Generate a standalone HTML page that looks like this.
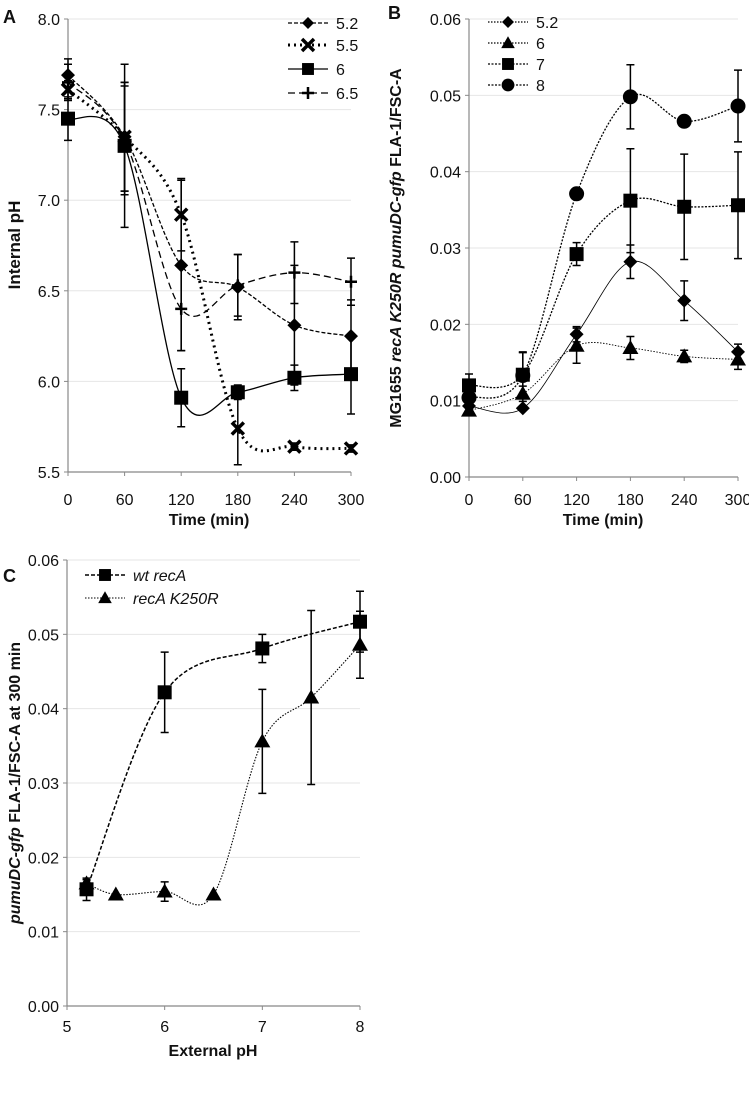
<!DOCTYPE html>
<html><head><meta charset="utf-8"><style>
html,body{margin:0;padding:0;background:#fff}
svg{display:block}
text{font-family:"Liberation Sans",sans-serif;fill:#111}
</style></head><body>
<svg id="s" width="749" height="1094" xmlns="http://www.w3.org/2000/svg"></svg>
<script>
// Panel A data
const timesA = [0,60,120,180,240,300];
const a52 = [7.69,7.35,6.64,6.52,6.31,6.25];
const a52e = [0.09,0.30,0.47,0.18,0.33,0.20];
const a55 = [7.61,7.35,6.92,5.74,5.64,5.63];
const a55e = [0.05,0.30,0.20,0.20,0.02,0.02];
const a6 = [7.45,7.30,5.91,5.94,6.02,6.04];
const a6e = [0.12,0.45,0.16,0.04,0.07,0.22];
const a65 = [7.65,7.33,6.40,6.53,6.60,6.55];
const a65e = [0.10,0.30,0.23,0.17,0.17,0.13];
const ticksAy = [5.5,6.0,6.5,7.0,7.5,8.0];
const ticksAx = [0,60,120,180,240,300];
// Panel B data
const b52 = [0.0093,0.0090,0.0187,0.0282,0.0231,0.0164];
const b52e = [0,0,0.0010,0.0022,0.0026,0.0010];
const b6 = [0.0087,0.0109,0.0172,0.0169,0.0158,0.0154];
const b6e = [0.0005,0.0010,0.0023,0.0015,0.0008,0.0013];
const b7 = [0.0120,0.0134,0.0292,0.0362,0.0354,0.0356];
const b7e = [0.0015,0.0030,0.0015,0.0068,0.0069,0.0070];
const b8 = [0.0104,0.0133,0.0371,0.0498,0.0466,0.0486];
const b8e = [0.0010,0.0030,0,0.0042,0.0007,0.0047];
const ticksBy = [0,0.01,0.02,0.03,0.04,0.05,0.06];
// Panel C data
const cWtX = [5.2,6,7,8];
const cWtY = [0.0157,0.0422,0.0481,0.0517];
const cWtE = [0.0015,0.0054,0.0019,0.0041];
const cMutX = [5.2,5.5,6,6.5,7,7.5,8];
const cMutY = [0.0165,0.0150,0.0154,0.0150,0.0356,0.0415,0.0486];
const cMutE = [0.0005,0,0.0013,0,0.0070,0.0117,0.0045];
const ticksCx = [5,6,7,8];

const S = document.getElementById('s');
const NS = 'http://www.w3.org/2000/svg';
function mk(tag, attrs, parent){const e=document.createElementNS(NS,tag);for(const k in attrs)e.setAttribute(k,attrs[k]);(parent||S).appendChild(e);return e;}
function lin(d0,d1,r0,r1){return v=>r0+(v-d0)/(d1-d0)*(r1-r0);}
function spline(pts){
  let d='M'+pts[0][0]+','+pts[0][1];
  for(let i=0;i<pts.length-1;i++){
    const p0=pts[Math.max(0,i-1)],p1=pts[i],p2=pts[i+1],p3=pts[Math.min(pts.length-1,i+2)];
    const c1=[p1[0]+(p2[0]-p0[0])/6,p1[1]+(p2[1]-p0[1])/6];
    const c2=[p2[0]-(p3[0]-p1[0])/6,p2[1]-(p3[1]-p1[1])/6];
    d+=' C'+c1[0]+','+c1[1]+' '+c2[0]+','+c2[1]+' '+p2[0]+','+p2[1];
  }
  return d;
}
function marker(g,type,x,y,s){
  s=s||1;
  if(type==='sq') mk('rect',{x:x-7*s,y:y-7*s,width:14*s,height:14*s,fill:'#000'},g);
  else if(type==='dia') mk('polygon',{points:`${x},${y-7*s} ${x+7*s},${y} ${x},${y+7*s} ${x-7*s},${y}`,fill:'#000'},g);
  else if(type==='tri') mk('polygon',{points:`${x},${y-8*s} ${x+8*s},${y+6*s} ${x-8*s},${y+6*s}`,fill:'#000'},g);
  else if(type==='circ') mk('circle',{cx:x,cy:y,r:7.5*s,fill:'#000'},g);
  else if(type==='x'){mk('path',{d:`M${x-6},${y-6}L${x+6},${y+6}M${x+6},${y-6}L${x-6},${y+6}`,stroke:'#000','stroke-width':3.5},g);}
  else if(type==='plus'){mk('path',{d:`M${x-6},${y}L${x+6},${y}M${x},${y-6}L${x},${y+6}`,stroke:'#000','stroke-width':2.5},g);}
}
function axes(g,xs,ys,x0,x1,y0,y1,xt,yt,fmtY,fmtX,xoff){
  yt.forEach(v=>{const y=ys(v);
    if(v!==yt[0]) mk('line',{x1:x0,x2:x1,y1:y,y2:y,stroke:'#e6e6e6','stroke-width':1},g);
    mk('line',{x1:x0-4,x2:x0,y1:y,y2:y,stroke:'#888'},g);
    const t=mk('text',{x:x0-8,y:y+6,'text-anchor':'end','font-size':16},g);t.textContent=fmtY(v);
    
  });
  mk('line',{x1:x0,x2:x0,y1:y0,y2:y1,stroke:'#888','stroke-width':1.2},g);
  mk('line',{x1:x0,x2:x1,y1:y0,y2:y0,stroke:'#888','stroke-width':1.2},g);
  xt.forEach(v=>{const x=xs(v);
    mk('line',{x1:x,x2:x,y1:y0,y2:y0+4,stroke:'#888'},g);
    const t=mk('text',{x:x,y:y0+xoff,'text-anchor':'middle','font-size':16},g);t.textContent=fmtX(v);
    
  });
}
function series(g,name,xv,yv,ev,xs,ys,dash,type,sw){
  const sg=mk('g',{},g);
  
  
  const pts=xv.map((x,i)=>[xs(x),ys(yv[i])]);
  mk('path',{d:spline(pts),fill:'none',stroke:'#000','stroke-width':sw||1.3,'stroke-dasharray':dash},sg);
  pts.forEach((p,i)=>{const e=ev[i];if(e>0){const t=ys(yv[i]+e),b=ys(yv[i]-e);
    mk('path',{d:`M${p[0]},${t}L${p[0]},${b}M${p[0]-4},${t}L${p[0]+4},${t}M${p[0]-4},${b}L${p[0]+4},${b}`,stroke:'#000','stroke-width':1.5},sg);}});
  pts.forEach(p=>marker(sg,type,p[0],p[1]));
}
function legend(g,x,y,dash,type,label,italic,sw){
  const lg=mk('g',{},g);
  
  
  mk('line',{x1:x,x2:x+40,y1:y,y2:y,stroke:'#000','stroke-width':sw||1.3,'stroke-dasharray':dash},lg);
  marker(lg,type,x+20,y,0.85);
  const t=mk('text',{x:x+48,y:y+6,'font-size':16,'font-style':italic?'italic':'normal'},lg);t.textContent=label;
}
function txt(g,x,y,s,attrs,name){const t=mk('text',Object.assign({x:x,y:y},attrs),g);t.innerHTML=s;return t;}

// Panel A
const gA=mk('g',{});
const xA=lin(0,300,68,351), yA=lin(5.5,8.0,472,19);
axes(gA,xA,yA,68,351,472,19,ticksAx,ticksAy,v=>v.toFixed(1),v=>v,33);
series(gA,'series-5.2',timesA,a52,a52e,xA,yA,'4,2','dia');
series(gA,'series-5.5',timesA,a55,a55e,xA,yA,'2,4','x',3);
series(gA,'series-6',timesA,a6,a6e,xA,yA,'','sq');
series(gA,'series-6.5',timesA,a65,a65e,xA,yA,'7,4','plus');
legend(gA,288,23,'4,2','dia','5.2');
legend(gA,288,45,'2,4','x','5.5',false,3);
legend(gA,288,69,'','sq','6');
legend(gA,288,93,'7,4','plus','6.5');
txt(gA,3,23,'A',{'font-size':18,'font-weight':'bold'},'panel-label-a');
txt(gA,209,525,'Time (min)',{'font-size':16,'font-weight':'bold','text-anchor':'middle'},'x-axis-title');
txt(gA,0,0,'Internal pH',{'font-size':17,'font-weight':'bold','text-anchor':'middle',transform:'translate(20,245) rotate(-90)'},'y-axis-title');

// Panel B
const gB=mk('g',{});
const xB=lin(0,300,469,738), yB=lin(0,0.06,477,19);
axes(gB,xB,yB,469,738,477,19,ticksAx,ticksBy,v=>v.toFixed(2),v=>v,28);
series(gB,'series-5.2',timesA,b52,b52e,xB,yB,'','dia',0.8);
series(gB,'series-6',timesA,b6,b6e,xB,yB,'1.5,1.5','tri',0.9);
series(gB,'series-7',timesA,b7,b7e,xB,yB,'2,1.5','sq');
series(gB,'series-8',timesA,b8,b8e,xB,yB,'2,1.5','circ');
legend(gB,488,22,'1.5,1.5','dia','5.2');
legend(gB,488,43,'1.5,1.5','tri','6');
legend(gB,488,64,'2,1.5','sq','7');
legend(gB,488,85,'2,1.5','circ','8');
txt(gB,388,19,'B',{'font-size':18,'font-weight':'bold'},'panel-label-b');
txt(gB,603,525,'Time (min)',{'font-size':16,'font-weight':'bold','text-anchor':'middle'},'x-axis-title');
txt(gB,0,0,'MG1655 <tspan font-style="italic">recA K250R pumuDC-gfp</tspan> FLA-1/FSC-A',{'font-size':16,'font-weight':'bold','text-anchor':'middle',transform:'translate(401,248) rotate(-90)'},'y-axis-title');

// Panel C
const gC=mk('g',{});
const xC=lin(5,8,67,360), yC=lin(0,0.06,1006,560);
axes(gC,xC,yC,67,360,1006,560,ticksCx,ticksBy,v=>v.toFixed(2),v=>v,26);
series(gC,'series-wt-recA',cWtX,cWtY,cWtE,xC,yC,'4,2','sq',1.5);
series(gC,'series-recA-K250R',cMutX,cMutY,cMutE,xC,yC,'1.5,1.5','tri',1.1);
legend(gC,85,575,'4,2','sq','wt recA',true,1.5);
legend(gC,85,598,'1.5,1.5','tri','recA K250R',true,1.1);
txt(gC,3,582,'C',{'font-size':18,'font-weight':'bold'},'panel-label-c');
txt(gC,213,1056,'External pH',{'font-size':16,'font-weight':'bold','text-anchor':'middle'},'x-axis-title');
txt(gC,0,0,'<tspan font-style="italic">pumuDC-gfp</tspan> FLA-1/FSC-A at 300 min',{'font-size':16,'font-weight':'bold','text-anchor':'middle',transform:'translate(20,783) rotate(-90)'},'y-axis-title');
</script>
</body></html>
